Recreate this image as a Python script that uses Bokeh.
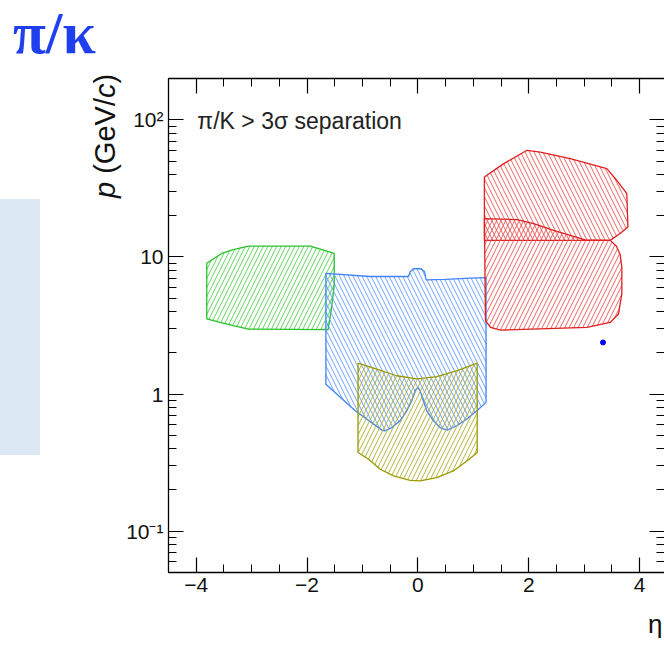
from bokeh.plotting import figure
from bokeh.models import (Range1d, LogAxis, LinearAxis, SingleIntervalTicker,
                          LogTicker, Label, CustomJSTickFormatter, Div)
from bokeh.layouts import row, column
from bokeh.embed import file_html
from bokeh.resources import INLINE

# ---------------- data ----------------
# Green region (backward endcap)
green_eta = [-3.81, -3.81, -3.54, -3.33, -3.06, -1.94, -1.51, -1.51, -1.56, -1.62, -3.06, -3.33, -3.57]
green_p = [3.53, 9.0, 10.6, 11.3, 12.0, 12.0, 10.6, 6.2, 4.2, 2.95, 2.98, 3.16, 3.33]

# Blue region (barrel, upper)
blue_eta = [-1.66, -0.86, -0.17, -0.14, -0.08, 0.06, 0.12, 0.15, 0.49, 0.95, 1.23,
            1.23, 1.07, 0.89, 0.71, 0.53, 0.40, 0.28, 0.16, 0.10, 0.04, 0.0,
            -0.05, -0.11, -0.20, -0.32, -0.47, -0.59, -0.65, -1.13, -1.66]
blue_p = [7.6, 7.2, 7.2, 7.8, 8.2, 8.2, 7.8, 6.8, 6.85, 7.0, 7.07,
          0.87, 0.76, 0.66, 0.59, 0.546, 0.57, 0.64, 0.755, 0.89, 1.06, 1.12,
          1.06, 0.89, 0.755, 0.64, 0.57, 0.54, 0.546, 0.755, 1.18]

# Olive region (barrel, lower)
olive_eta = [-1.08, -1.08, -0.89, -0.68, -0.44, -0.14, 0.04, 0.34, 0.64, 0.89, 1.07,
             1.07, 0.71, 0.34, -0.02, -0.38, -0.74]
olive_p = [1.68, 0.375, 0.335, 0.283, 0.253, 0.235, 0.233, 0.246, 0.275, 0.326, 0.374,
           1.68, 1.48, 1.34, 1.29, 1.36, 1.52]

# Red region, upper (forward, gas)
red_hi_eta = [1.20, 1.55, 1.97, 2.21, 2.75, 3.41, 3.59, 3.77, 3.79, 3.65, 3.47, 1.20]
red_hi_p = [38.3, 47.9, 59.9, 58.2, 52.1, 44.0, 36.1, 28.9, 16.5, 14.8, 13.2, 13.2]

# Red region, lower (forward, aerogel)
red_lo_eta = [1.20, 1.79, 2.09, 2.45, 2.81, 3.02, 3.47, 3.58, 3.65, 3.68, 3.68, 3.62,
              3.47, 3.05, 1.49, 1.31, 1.22]
red_lo_p = [19.0, 18.7, 17.5, 15.6, 14.1, 13.3, 13.2, 12.0, 10.4, 8.41, 5.38, 3.84,
            3.33, 3.06, 2.93, 3.06, 3.43]

# single point
dot_eta = [3.34]
dot_p = [2.38]

x_tick_labels = {-4: "\u22124", -2: "\u22122", 0: "0", 2: "2", 4: "4"}
y_tick_labels = {0.1: "10\u207b\u00b9", 1: "1", 10: "10", 100: "10\u00b2"}

# ---------------- figure ----------------
FONT = "Liberation Sans"
fig = figure(width=542, height=602, output_backend="svg", toolbar_location=None,
             y_axis_type="log",
             x_range=Range1d(-4.5, 4.45), y_range=Range1d(0.05, 200),
             min_border_left=46, min_border_right=0, min_border_top=78,
             min_border_bottom=30)
fig.xgrid.visible = False
fig.ygrid.visible = False
fig.outline_line_color = None
fig.background_fill_color = "white"
fig.border_fill_color = "white"

bottom_ax = fig.below[0]
left_ax = fig.left[0]
top_ax = LinearAxis()
right_ax = LogAxis()
fig.add_layout(top_ax, "above")
fig.add_layout(right_ax, "right")

for ax in [bottom_ax, top_ax]:
    ax.ticker = SingleIntervalTicker(interval=2, num_minor_ticks=4)
for ax in [left_ax, right_ax]:
    ax.ticker = LogTicker(num_minor_ticks=10)

for ax in [bottom_ax, top_ax, left_ax, right_ax]:
    ax.major_tick_in = 15
    ax.major_tick_out = 0
    ax.minor_tick_in = 8
    ax.minor_tick_out = 0
    ax.axis_line_color = "black"
    ax.axis_line_width = 1.3
    ax.major_tick_line_color = "black"
    ax.major_tick_line_width = 1.2
    ax.minor_tick_line_color = "black"
    ax.minor_tick_line_width = 1.0
    ax.major_label_text_font = FONT
    ax.major_label_text_font_size = "21px"
    ax.major_label_text_color = "#111111"

for ax in [top_ax, right_ax]:
    ax.formatter = CustomJSTickFormatter(code="return ''")
    ax.major_label_standoff = 0
right_ax.axis_line_color = None

bottom_ax.major_label_overrides = x_tick_labels
bottom_ax.major_label_standoff = 5
left_ax.major_label_overrides = y_tick_labels
left_ax.major_label_standoff = 5

# ---------------- regions ----------------
def region(xs, ys, line, hatch, pattern):
    fig.patch(xs, ys, fill_color=None, line_color=line, line_width=1.3,
              hatch_pattern=pattern, hatch_color=hatch, hatch_scale=9,
              hatch_weight=1.0, hatch_alpha=0.9)

region(green_eta, green_p, "#27c227", "#4fd04f", "/")
region(blue_eta, blue_p, "#3f84ff", "#5f99ff", "\\")
region(olive_eta, olive_p, "#9a9a00", "#abab2c", "/")
region(red_hi_eta, red_hi_p, "#e01f1f", "#e85353", "\\")
region(red_lo_eta, red_lo_p, "#e01f1f", "#e85353", "/")

fig.scatter(dot_eta, dot_p, size=5, color="#0000ff")

fig.add_layout(Label(x=-3.98, y=97.5, text="\u03c0/K > 3\u03c3 separation",
                     text_font=FONT, text_font_size="23px", text_color="#222222",
                     text_baseline="alphabetic", text_align="left"))

# ---------------- left side: slide title, box, axis title ----------------
side_html = (
    '<div style="position:relative;width:122px;height:645px;overflow:hidden;margin:0;padding:0;">'
    '<div style="position:absolute;left:0px;top:199px;width:40px;height:256px;background:#dde8f5;"></div>'
    '<div style="position:absolute;left:13px;top:0px;font-family:\'Liberation Serif\';'
    'font-weight:bold;font-size:60px;line-height:1.107;color:#2040f0;white-space:nowrap;">'
    '\u03c0/\u03ba</div>'
    '<div style="position:absolute;left:91px;top:198px;transform:rotate(-90deg);'
    'transform-origin:top left;font-family:\'Liberation Sans\';font-size:29px;'
    'line-height:29px;color:#111111;white-space:nowrap;">'
    '<i>p</i> (GeV/<i>c</i>)</div>'
    '</div>'
)
side = Div(text=side_html, width=122, height=645, margin=0)

# x-axis title, right-aligned under the frame as in the reference
eta_html = (
    '<div style="position:relative;width:542px;height:43px;overflow:hidden;margin:0;padding:0;">'
    '<div style="position:absolute;left:526px;top:8px;font-family:\'Liberation Sans\';'
    'font-size:26px;line-height:1.149;color:#111111;white-space:nowrap;">\u03b7</div>'
    '</div>'
)
eta_div = Div(text=eta_html, width=542, height=43, margin=0)

p = row(side, column(fig, eta_div, spacing=0), spacing=0)

open("out.html", "w").write(file_html(p, INLINE))
